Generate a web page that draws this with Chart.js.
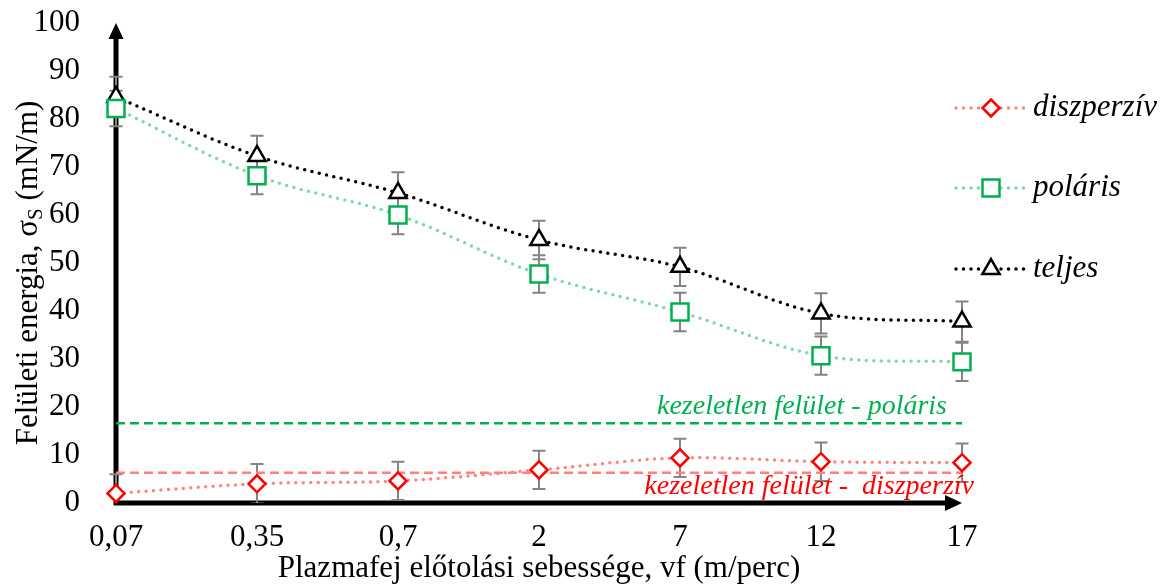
<!DOCTYPE html>
<html>
<head>
<meta charset="utf-8">
<title>Felületi energia</title>
<script src="https://cdn.jsdelivr.net/npm/chart.js@4.4.1/dist/chart.umd.min.js"></script>
<style>
  html, body { margin: 0; padding: 0; background: #fff; }
  #wrap { width: 1170px; height: 584px; position: relative; }
</style>
</head>
<body>
<div id="wrap"><canvas id="chart"></canvas></div>
<script>
// x categories: plasma head feed rate (m/perc)
const speeds = ["0,07", "0,35", "0,7", "2", "7", "12", "17"];
const yTicks = [0, 10, 20, 30, 40, 50, 60, 70, 80, 90, 100];

// surface energy components (mN/m)
const dispersive = [2.0, 4.0, 4.6, 6.9, 9.4, 8.6, 8.4];
const polar = [82.2, 68.2, 60.0, 47.7, 39.8, 30.7, 29.4];
const total = [84.6, 72.3, 64.6, 54.8, 49.2, 39.5, 37.8];

// +/- error bar half lengths
const dispersiveErr = [4.0, 4.1, 4.0, 4.0, 4.0, 4.0, 4.0];
const polarErr = [3.7, 3.9, 4.0, 3.9, 4.0, 4.0, 4.0];
const totalErr = [4.2, 4.2, 4.3, 4.0, 4.0, 4.2, 4.2];

// untreated surface reference levels
const untreatedPolar = 16.6;
const untreatedDispersive = 6.3;

const SERIF = "'Liberation Serif', 'Times New Roman', serif";
Chart.defaults.font.family = SERIF;
Chart.defaults.color = "#000";

const series = [
  { label: "diszperzív", data: dispersive, err: dispersiveErr, line: "#ff8585", mark: "#ff0000", style: "rectRot", r: 8.5 },
  { label: "poláris", data: polar, err: polarErr, line: "#80d9a6", mark: "#00b050", style: "rect", r: 12 },
  { label: "teljes", data: total, err: totalErr, line: "#000000", mark: "#000000", style: "triangle", r: 10 },
];

function dotted(s) {
  return {
    label: s.label,
    data: s.data,
    borderColor: s.line,
    borderWidth: 3.5,
    borderDash: [0, 7.5],
    borderCapStyle: "round",
    tension: 0.35,
    pointStyle: s.style,
    pointRadius: s.r,
    pointBorderWidth: 2.5,
    pointBorderColor: s.mark,
    pointBackgroundColor: "#fff",
    clip: false,
  };
}

function refLine(value, color) {
  return {
    data: speeds.map(() => value),
    borderColor: color,
    borderWidth: 2.5,
    borderDash: [9, 5],
    pointRadius: 0,
    clip: false,
  };
}

const decor = {
  id: "decor",
  beforeDatasetsDraw(chart) {
    const { ctx, chartArea: a, scales: { x, y } } = chart;
    ctx.save();
    // axes with arrow heads
    ctx.strokeStyle = "#000";
    ctx.fillStyle = "#000";
    ctx.lineWidth = 5;
    ctx.beginPath();
    ctx.moveTo(a.left, a.bottom + 2.5);
    ctx.lineTo(a.left, a.top + 14);
    ctx.moveTo(a.left - 2.5, a.bottom);
    ctx.lineTo(a.right - 14, a.bottom);
    ctx.stroke();
    ctx.beginPath();
    ctx.moveTo(a.left, a.top);
    ctx.lineTo(a.left - 7.5, a.top + 16);
    ctx.lineTo(a.left + 7.5, a.top + 16);
    ctx.closePath();
    ctx.moveTo(a.right, a.bottom);
    ctx.lineTo(a.right - 17, a.bottom - 8);
    ctx.lineTo(a.right - 17, a.bottom + 8);
    ctx.closePath();
    ctx.fill();

    // error bars (under the markers)
    ctx.beginPath();
    ctx.rect(a.left - 20, a.top, a.right - a.left + 40, a.bottom - a.top);
    ctx.clip();
    ctx.strokeStyle = "#848484";
    ctx.lineWidth = 2;
    series.forEach((s) => {
      s.data.forEach((v, i) => {
        const px = x.getPixelForValue(i);
        const top = y.getPixelForValue(v + s.err[i]);
        const bot = y.getPixelForValue(v - s.err[i]);
        ctx.beginPath();
        ctx.moveTo(px, top); ctx.lineTo(px, bot);
        ctx.moveTo(px - 6.5, top); ctx.lineTo(px + 6.5, top);
        ctx.moveTo(px - 6.5, bot); ctx.lineTo(px + 6.5, bot);
        ctx.stroke();
      });
    });
    ctx.restore();
  },
  afterDraw(chart) {
    const { ctx } = chart;
    ctx.save();

    // labels for the untreated reference lines
    ctx.font = "italic 28px " + SERIF;
    ctx.textAlign = "right";
    ctx.textBaseline = "middle";
    ctx.fillStyle = "#00b050";
    ctx.fillText("kezeletlen felület - poláris", 947, 407);
    ctx.fillStyle = "#ff0000";
    ctx.fillText("kezeletlen felület -  diszperzív", 974, 487);

    // legend
    const rows = [108, 188, 269];
    series.forEach((s, i) => {
      const ly = rows[i];
      ctx.strokeStyle = s.line;
      ctx.lineWidth = 3.5;
      ctx.lineCap = "round";
      ctx.setLineDash([0, 7.5]);
      ctx.beginPath();
      ctx.moveTo(956, ly);
      ctx.lineTo(1026, ly);
      ctx.stroke();
      ctx.setLineDash([]);
      ctx.fillStyle = "#fff";
      ctx.strokeStyle = s.mark;
      ctx.lineWidth = 2.5;
      Chart.helpers.drawPoint(ctx, { pointStyle: s.style, radius: s.r, rotation: 0, borderWidth: 2.5 }, 991, ly);
      ctx.fillStyle = "#000";
      ctx.font = "italic 31px " + SERIF;
      ctx.textAlign = "left";
      ctx.textBaseline = "middle";
      ctx.fillText(s.label, 1033, ly);
    });

    // y axis title, with subscript S
    const big = "31px " + SERIF, small = "21px " + SERIF;
    const p1 = "Felületi energia, σ", p2 = "S", p3 = " (mN/m)";
    ctx.font = big;
    const w1 = ctx.measureText(p1).width, w3 = ctx.measureText(p3).width;
    ctx.font = small;
    const w2 = ctx.measureText(p2).width;
    const wTot = w1 + w2 + w3;
    ctx.translate(37, 273);
    ctx.rotate(-Math.PI / 2);
    ctx.textAlign = "left";
    ctx.textBaseline = "alphabetic";
    ctx.fillStyle = "#000";
    ctx.font = big;
    ctx.fillText(p1, -wTot / 2, 0);
    ctx.font = small;
    ctx.fillText(p2, -wTot / 2 + w1, 5);
    ctx.font = big;
    ctx.fillText(p3, -wTot / 2 + w1 + w2, 0);
    ctx.restore();
  },
};

new Chart(document.getElementById("chart"), {
  type: "line",
  data: {
    labels: speeds,
    datasets: [
      ...series.map(dotted),
      refLine(untreatedPolar, "#00b050"),
      refLine(untreatedDispersive, "#ff8080"),
    ],
  },
  options: {
    responsive: true,
    maintainAspectRatio: false,
    animation: false,
    layout: { padding: { top: 23, right: 208, left: 0, bottom: 0 } },
    plugins: { legend: { display: false }, tooltip: { enabled: false } },
    scales: {
      x: {
        offset: false,
        grid: { display: false },
        border: { display: false },
        ticks: { font: { size: 31 }, padding: 8, maxRotation: 0, autoSkip: false },
        title: {
          display: true,
          text: "Plazmafej előtolási sebessége, vf (m/perc)",
          font: { size: 31 },
          padding: { top: 0, bottom: -3 },
        },
        afterFit(scale) {
          scale.height = 81;
          scale.paddingLeft = 0;
          scale.paddingRight = 0;
        },
      },
      y: {
        min: 0,
        max: 100,
        grid: { display: false },
        border: { display: false },
        ticks: { font: { size: 31 }, padding: 28 },
        afterBuildTicks(scale) { scale.ticks = yTicks.map((v) => ({ value: v })); },
        afterFit(scale) {
          scale.width = 116;
          scale.paddingTop = 0;
          scale.paddingBottom = 0;
        },
      },
    },
  },
  plugins: [decor],
});
</script>
</body>
</html>
